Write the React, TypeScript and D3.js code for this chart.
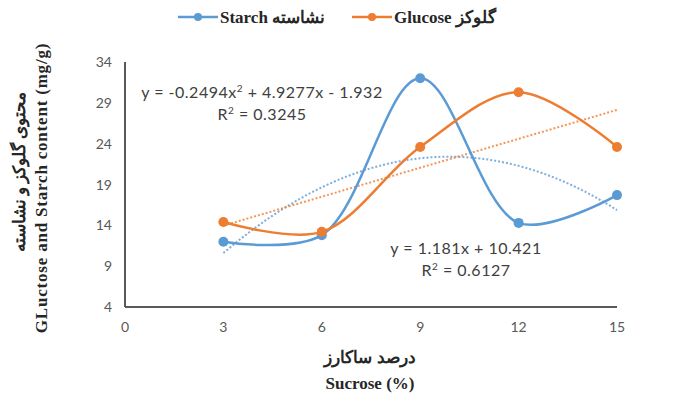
import * as d3 from "d3";

// sucrose (%) levels
const sucrose = [3, 6, 9, 12, 15];
// starch and glucose content (mg/g)
const starch = [12.0, 12.8, 32.0, 14.3, 17.7];
const glucose = [14.4, 13.2, 23.6, 30.3, 23.6];

const xTicks = [0, 3, 6, 9, 12, 15];
const yTicks = [4, 9, 14, 19, 24, 29, 34];

// trendline coefficients shown on the chart (highest power first)
const starchFit = [-0.2494, 4.9277, -1.932];
const glucoseFit = [1.181, 10.421];

const W = 681;
const H = 399;
const M = { top: 62, right: 64, bottom: 92, left: 125 };

const BLUE = "#5B9BD5";
const ORANGE = "#ED7D31";
const AXIS = "#595959";
const TICK_FONT = "Lato, 'Noto Sans', sans-serif";
const TITLE_FONT = "'Liberation Serif', 'DejaVu Serif', serif";

function poly(coefs: number[], x: number) {
  return coefs.reduce((acc, c) => acc * x + c, 0);
}

export default function App() {
  const x = d3.scaleLinear().domain([0, 15]).range([M.left, W - M.right]);
  const y = d3.scaleLinear().domain([4, 34]).range([H - M.bottom, M.top]);

  const smooth = d3
    .line<[number, number]>()
    .x((d) => x(d[0]))
    .y((d) => y(d[1]))
    .curve(d3.curveCatmullRom.alpha(0.5));

  const straight = d3
    .line<[number, number]>()
    .x((d) => x(d[0]))
    .y((d) => y(d[1]));

  const trendXs = d3.range(3, 15.001, 0.25);
  const series = [
    { name: "starch", values: starch, color: BLUE, fit: starchFit },
    { name: "glucose", values: glucose, color: ORANGE, fit: glucoseFit },
  ];

  return (
    <svg width={W} height={H} style={{ position: "absolute", left: 0, top: 0, background: "#fff" }}>
      {/* legend */}
      <g fontFamily={TITLE_FONT} fontWeight="bold" fontSize={17} fill="#262626">
        <line x1={178} x2={218} y1={17} y2={17} stroke={BLUE} strokeWidth={2.5} />
        <circle cx={198} cy={17} r={4} fill={BLUE} />
        <text x={220} y={23}>Starch نشاسته</text>
        <line x1={352} x2={392} y1={17} y2={17} stroke={ORANGE} strokeWidth={2.5} />
        <circle cx={372} cy={17} r={4} fill={ORANGE} />
        <text x={394} y={23}>Glucose گلوکز</text>
      </g>

      {/* trendlines */}
      {series.map((s) => (
        <path
          key={s.name + "-trend"}
          d={straight(trendXs.map((t) => [t, poly(s.fit, t)] as [number, number])) || ""}
          fill="none"
          stroke={s.color}
          strokeWidth={2}
          strokeDasharray="2,2"
          opacity={0.8}
        />
      ))}

      {/* series */}
      {series.map((s) => (
        <g key={s.name}>
          <path
            d={smooth(sucrose.map((v, i) => [v, s.values[i]] as [number, number])) || ""}
            fill="none"
            stroke={s.color}
            strokeWidth={2.5}
          />
          {sucrose.map((v, i) => (
            <circle key={i} cx={x(v)} cy={y(s.values[i])} r={5} fill={s.color} />
          ))}
        </g>
      ))}

      {/* axes */}
      <line x1={x(0)} x2={x(0)} y1={y(34)} y2={y(4)} stroke={AXIS} strokeWidth={2} />
      <line x1={x(0)} x2={x(15)} y1={y(4)} y2={y(4)} stroke={AXIS} strokeWidth={2} />

      <g fontFamily={TICK_FONT} fontSize={14} fill={AXIS}>
        {yTicks.map((t) => (
          <text key={t} x={x(0) - 13} y={y(t) + 5} textAnchor="end">
            {t}
          </text>
        ))}
        {xTicks.map((t) => (
          <text key={t} x={x(t)} y={y(4) + 25} textAnchor="middle">
            {t}
          </text>
        ))}
      </g>

      {/* trendline equations */}
      <g fontFamily={TICK_FONT} fontSize={16} letterSpacing={0.5} fill="#404040" textAnchor="middle">
        <text x={262} y={98}>
          y = -0.2494x<tspan dy={-6} fontSize={10}>2</tspan>
          <tspan dy={6}> + 4.9277x - 1.932</tspan>
        </text>
        <text x={262} y={120}>
          R<tspan dy={-6} fontSize={10}>2</tspan>
          <tspan dy={6}> = 0.3245</tspan>
        </text>
        <text x={466} y={254}>y = 1.181x + 10.421</text>
        <text x={466} y={276}>
          R<tspan dy={-6} fontSize={10}>2</tspan>
          <tspan dy={6}> = 0.6127</tspan>
        </text>
      </g>

      {/* axis titles */}
      <g fontFamily={TITLE_FONT} fontWeight="bold" fontSize={17} fill="#262626" textAnchor="middle">
        <text x={370} y={363}>درصد ساکارز</text>
        <text x={370} y={389}>Sucrose (%)</text>
        <text transform="translate(25,172) rotate(-90)">محتوی گلوکز و نشاسته</text>
        <text transform="translate(47,188) rotate(-90)" letterSpacing={0.8}>
          GLuctose and Starch content (mg/g)
        </text>
      </g>
    </svg>
  );
}
